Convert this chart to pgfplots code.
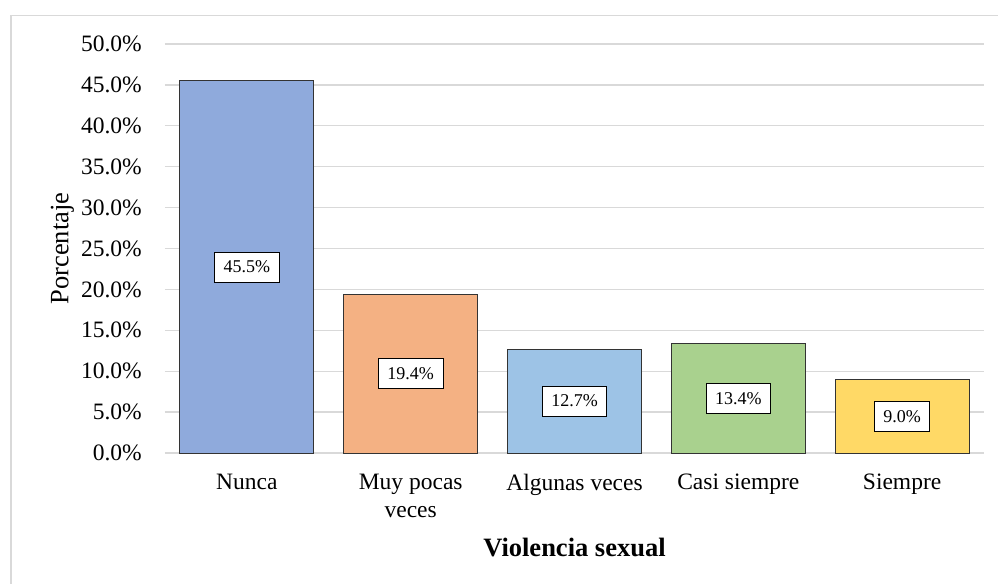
\documentclass[border=0pt]{standalone}
\usepackage{fontspec}
\setmainfont{Liberation Serif}
\usepackage{pgfplots}
\pgfplotsset{compat=1.18}
\definecolor{cA}{HTML}{8FAADC}
\definecolor{cB}{HTML}{F4B183}
\definecolor{cC}{HTML}{9DC3E6}
\definecolor{cD}{HTML}{A9D18E}
\definecolor{cE}{HTML}{FFD966}
\definecolor{gridg}{HTML}{D9D9D9}
\begin{document}
\begin{tikzpicture}
\useasboundingbox (-165bp,-131bp) rectangle (833bp,453bp);
\draw[gridg, line width=1.8bp] (-154bp,-200bp) -- (-154bp,437.5bp) -- (900bp,437.5bp);
\begin{axis}[
  scale only axis,
  width=819bp, height=409bp,
  at={(0,0)}, anchor=south west,
  xmin=-0.5, xmax=4.5, ymin=0, ymax=50,
  ytick={0,5,...,50},
  xtick={0,1,2,3,4},
  xticklabels={Nunca,{Muy pocas\\veces},Algunas veces,Casi siempre,Siempre},
  axis line style={draw=none},
  major tick style={draw=none},
  ymajorgrids,
  grid style={gridg, line width=1.3bp},
  /pgf/number format/assume math mode=true,
  yticklabel={\pgfmathprintnumber[fixed,fixed zerofill,precision=1]{\tick}\%},
  yticklabel style={font=\fontsize{23.5bp}{28bp}\selectfont, anchor=east, inner xsep=0pt, xshift=-23bp},
  xticklabel style={font=\fontsize{23.5bp}{28bp}\selectfont, align=center, anchor=north, inner ysep=0pt, yshift=-21bp},
  xlabel={\textbf{Violencia sexual}},
  xlabel style={font=\fontsize{26.5bp}{30bp}\selectfont, at={(axis description cs:0.5,0)}, anchor=base, yshift=-103bp},
  ylabel={Porcentaje},
  ylabel style={font=\fontsize{26.5bp}{30bp}\selectfont, at={(axis description cs:0,0.5)}, anchor=base, yshift=96.5bp},
  clip=false,
]
\addplot[ybar, bar shift=0pt, bar width=134bp, fill=cA, draw=black!80, line width=0.9bp] coordinates {(0,45.5)};
\addplot[ybar, bar shift=0pt, bar width=134bp, fill=cB, draw=black!80, line width=0.9bp] coordinates {(1,19.4)};
\addplot[ybar, bar shift=0pt, bar width=134bp, fill=cC, draw=black!80, line width=0.9bp] coordinates {(2,12.7)};
\addplot[ybar, bar shift=0pt, bar width=134bp, fill=cD, draw=black!80, line width=0.9bp] coordinates {(3,13.4)};
\addplot[ybar, bar shift=0pt, bar width=134bp, fill=cE, draw=black!80, line width=0.9bp] coordinates {(4,9.0)};
\addplot[draw=none, mark=none, nodes near coords, point meta=explicit symbolic,
  every node near coord/.style={anchor=center, fill=white, draw=black, line width=0.8bp,
    font=\fontsize{18bp}{21bp}\selectfont, inner xsep=9bp, inner ysep=0pt, minimum height=30bp}]
  coordinates {(0,22.75)[45.5\%] (1,9.7)[19.4\%] (2,6.35)[12.7\%] (3,6.7)[13.4\%] (4,4.5)[9.0\%]};
\end{axis}
\end{tikzpicture}
\end{document}
